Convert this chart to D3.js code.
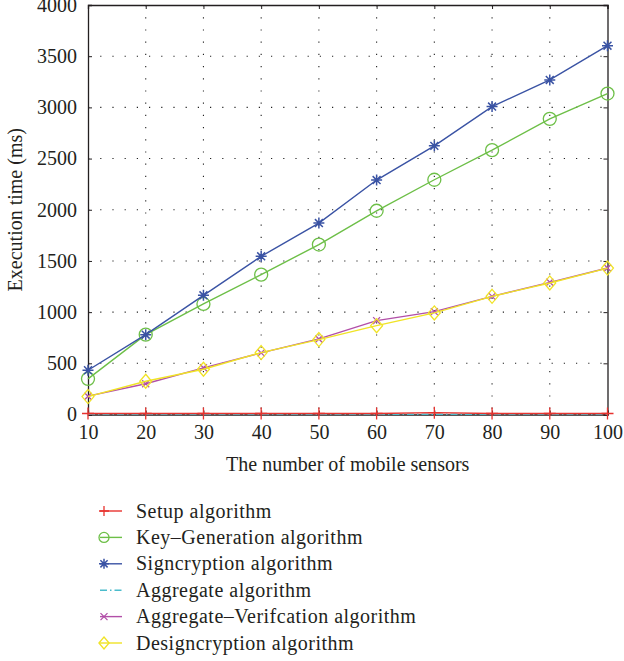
<!DOCTYPE html>
<html><head><meta charset="utf-8">
<script src="https://cdn.jsdelivr.net/npm/d3@7"></script>
<style>body{margin:0;background:#fff}svg{display:block}text{font-family:"Liberation Serif","DejaVu Serif",serif;fill:#231f20}</style>
</head><body><svg id="c" width="624" height="661"></svg>
<script>
const sensors = [10,20,30,40,50,60,70,80,90,100];
const setup = [10,10,10,10,10,10,18,10,10,10];
const keyGen = [348,780,1080,1366,1660,1990,2293,2582,2888,3135];
const signcryption = [432,780,1164,1545,1870,2290,2624,3008,3268,3603];
const aggregate = [2,2,2,2,2,2,2,2,2,2];
const aggVerify = [179,300,456,602,738,917,1005,1154,1291,1431];
const designcryption = [175,325,442,605,732,868,992,1154,1285,1430];
const yTicks = [0,500,1000,1500,2000,2500,3000,3500,4000];
const xTicks = [10,20,30,40,50,60,70,80,90,100];
const seriesNames = ["Setup algorithm","Key\u2013Generation algorithm","Signcryption algorithm","Aggregate algorithm","Aggregate\u2013Verifcation algorithm","Designcryption algorithm"];

const series = [
 {name:seriesNames[0], values:setup, color:"#e8332f", marker:"plus"},
 {name:seriesNames[1], values:keyGen, color:"#6dbf47", marker:"circle"},
 {name:seriesNames[2], values:signcryption, color:"#3a53a4", marker:"star"},
 {name:seriesNames[3], values:aggregate, color:"#4bbccc", marker:"none", dash:"7,3,1.5,3"},
 {name:seriesNames[4], values:aggVerify, color:"#b24fa8", marker:"x"},
 {name:seriesNames[5], values:designcryption, color:"#f0e326", marker:"diamond"}
];

const svg = d3.select("#c");
const L=88, R=607.5, T=5, B=414.5;
const x = d3.scaleLinear().domain([10,100]).range([L,R]);
const y = d3.scaleLinear().domain([0,4000]).range([B,T]);

// grid
const g = svg.append("g");
g.selectAll("line.gx").data(xTicks.slice(1,-1)).join("line")
 .attr("x1",d=>x(d)).attr("x2",d=>x(d)).attr("y1",T).attr("y2",B)
 .attr("stroke","#222").attr("stroke-width",1.1).attr("stroke-dasharray","1.2,11");
g.selectAll("line.gy").data(yTicks.slice(1,-1)).join("line")
 .attr("y1",d=>y(d)).attr("y2",d=>y(d)).attr("x1",L).attr("x2",R)
 .attr("stroke","#222").attr("stroke-width",1.1).attr("stroke-dasharray","1.2,11");

// axes
const fs = "20px";
const fmt = d3.format("d");
const xAxis = svg.append("g").attr("transform",`translate(0,${B})`)
 .call(d3.axisBottom(x).tickValues(xTicks).tickSize(-4).tickPadding(10).tickFormat(fmt));
const xAxisTop = svg.append("g").attr("transform",`translate(0,${T})`)
 .call(d3.axisTop(x).tickValues(xTicks).tickSize(-4).tickFormat(""));
const yAxis = svg.append("g").attr("transform",`translate(${L},0)`)
 .call(d3.axisLeft(y).tickValues(yTicks).tickSize(-4).tickPadding(11).tickFormat(fmt));
const yAxisR = svg.append("g").attr("transform",`translate(${R},0)`)
 .call(d3.axisRight(y).tickValues(yTicks).tickSize(-4).tickFormat(""));
[xAxis,xAxisTop,yAxis,yAxisR].forEach(a=>{
 a.select(".domain").attr("stroke","#231f20").attr("stroke-width",1.3);
 a.selectAll(".tick line").attr("stroke","#231f20");
 a.selectAll("text").style("font-size",fs).style("font-family",'"Liberation Serif",serif').attr("fill","#231f20");
});

// lines
const line = d3.line().x((d,i)=>x(sensors[i])).y(d=>y(d));
function marker(sel, type, color, s){
 const p = sel.append("g");
 if(type==="plus"){
  p.append("path").attr("d",`M${-s},0H${s}M0,${-s}V${s}`).attr("stroke",color).attr("stroke-width",1.3);
 } else if(type==="circle"){
  p.append("circle").attr("r",s).attr("fill","none").attr("stroke",color).attr("stroke-width",1.3);
 } else if(type==="star"){
  const a=s*0.72;
  p.append("path").attr("d",`M${-s},0H${s}M0,${-s}V${s}M${-a},${-a}L${a},${a}M${-a},${a}L${a},${-a}`).attr("stroke",color).attr("stroke-width",1.5);
 } else if(type==="x"){
  const a=s*0.7;
  p.append("path").attr("d",`M${-a},${-a}L${a},${a}M${-a},${a}L${a},${-a}`).attr("stroke",color).attr("stroke-width",1.3);
 } else if(type==="diamond"){
  p.append("path").attr("d",`M0,${-s}L${s*0.85},0L0,${s}L${-s*0.85},0Z`).attr("fill","none").attr("stroke",color).attr("stroke-width",1.3);
 }
 return p;
}
const order=[3,0,1,2,4,5];
order.forEach(k=>{
 const s=series[k];
 svg.append("path").datum(s.values).attr("d",line).attr("fill","none")
  .attr("stroke",s.color).attr("stroke-width",1.4).attr("stroke-dasharray",s.dash||null);
 if(s.marker!=="none"){
  s.values.forEach((v,i)=>{
   const sz = s.marker==="circle"?6.5:s.marker==="diamond"?7:s.marker==="star"?5.5:s.marker==="plus"?6:5;
   marker(svg,s.marker,s.color,sz).attr("transform",`translate(${x(sensors[i])},${y(v)})`);
  });
 }
});

// axis titles
svg.append("text").attr("x",(L+R)/2).attr("y",471).attr("text-anchor","middle").style("font-size","20px").text("The number of mobile sensors");
svg.append("text").attr("transform",`translate(22,${(T+B)/2}) rotate(-90)`).attr("text-anchor","middle").style("font-size","20px").text("Execution time (ms)");

// legend
const leg = svg.append("g");
series.forEach((s,i)=>{
 const yy = 511 + i*26.4;
 leg.append("line").attr("x1",100).attr("x2",122).attr("y1",yy).attr("y2",yy)
  .attr("stroke",s.color).attr("stroke-width",1.4).attr("stroke-dasharray",s.dash||null);
 if(s.marker!=="none") marker(leg,s.marker,s.color,s.marker==="circle"?5:s.marker==="diamond"?6:5).attr("transform",`translate(104,${yy})`);
 leg.append("text").attr("x",136).attr("y",yy+6.5).style("font-size","20px").style("letter-spacing","0.5px").text(s.name);
});
</script></body></html>
